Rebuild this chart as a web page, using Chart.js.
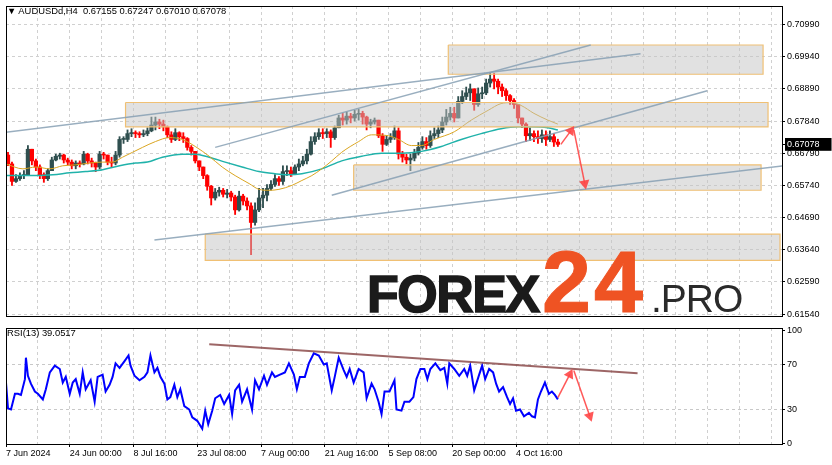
<!DOCTYPE html>
<html>
<head>
<meta charset="utf-8">
<script src="https://cdn.jsdelivr.net/npm/chart.js@4.4.1/dist/chart.umd.min.js"></script>
<style>
html,body{margin:0;padding:0;background:#fff;}
#wrap{position:relative;width:832px;height:465px;overflow:hidden;font-family:'Liberation Sans',Arial,sans-serif;}
#c1{position:absolute;left:0;top:0;}
#c2{position:absolute;left:0;top:322px;}
.hdr{position:absolute;font-size:9.4px;line-height:10px;color:#000;white-space:nowrap;}
.wm{position:absolute;line-height:1;white-space:nowrap;font-family:'Liberation Sans',Arial,sans-serif;}
#wm1{left:367px;top:268px;font-size:52px;font-weight:bold;color:#1b1b1b;letter-spacing:-1.5px;-webkit-text-stroke:1.5px #1b1b1b;}
#wm2{left:542px;top:238px;font-size:88px;font-weight:bold;color:#ef5323;letter-spacing:3px;-webkit-text-stroke:1px #ef5323;}
#wm3{left:651px;top:279px;font-size:39px;color:#2a2a2a;letter-spacing:-1px;}
</style>
</head>
<body>
<div id="wrap">
<canvas id="c1" width="832" height="322"></canvas>
<canvas id="c2" width="832" height="143"></canvas>
<div class="hdr" style="left:7px;top:6px">▼ AUDUSDd,H4&nbsp; 0.67155 0.67247 0.67010 0.67078</div>
<div class="hdr" style="left:7px;top:328px">RSI(13) 39.0517</div>
<div class="wm" id="wm1">FOREX</div>
<div class="wm" id="wm2">24</div>
<div class="wm" id="wm3">.PRO</div>
</div>
<script>
// ---------- DATA ----------
const timeLabels = ['7 Jun 2024','24 Jun 00:00','8 Jul 16:00','23 Jul 08:00','7 Aug 00:00','21 Aug 16:00','5 Sep 08:00','20 Sep 00:00','4 Oct 16:00'];
const priceTicks = [0.61540,0.62590,0.63640,0.64690,0.65740,0.66790,0.67840,0.68890,0.69940,0.70990];
const lastPrice = 0.67078;
const rsiTicks = [0,30,70,100];

const firstOpen = 0.6673;
const closes = [
.6644,.6587,.6596,.6606,.6609,.6692,.6654,.6634,.6609,.6596,
.6622,.6657,.6669,.6673,.6657,.6650,.6638,.6647,.6644,.6676,
.6654,.6647,.6634,.6676,.6673,.6650,.6647,.6673,.6724,.6724,
.6743,.6746,.6743,.6739,.6743,.6752,.6771,.6781,.6774,.6765,
.6739,.6724,.6746,.6733,.6727,.6698,.6685,.6654,.6634,.6606,
.6571,.6533,.6552,.6558,.6545,.6549,.6536,.6494,.6539,.6523,
.6507,.6453,.6494,.6533,.6542,.6564,.6577,.6596,.6587,.6619,
.6622,.6612,.6634,.6644,.6654,.6676,.6717,.6733,.6746,.6743,
.6749,.6730,.6762,.6794,.6787,.6800,.6794,.6806,.6809,.6797,
.6774,.6781,.6787,.6736,.6708,.6724,.6730,.6752,.6676,.6666,
.6657,.6663,.6679,.6698,.6717,.6704,.6736,.6743,.6755,.6781,
.6797,.6809,.6794,.6848,.6864,.6876,.6889,.6838,.6873,.6876,
.6908,.6921,.6914,.6895,.6883,.6867,.6851,.6838,.6794,.6774,
.6736,.6743,.6733,.6727,.6739,.6724,.6733,.67155,.67078];
const highs = [
.6682,.6650,.6609,.6615,.6622,.6704,.6692,.6660,.6641,.6615,
.6628,.6666,.6676,.6679,.6676,.6663,.6657,.6654,.6654,.6685,
.6679,.6663,.6650,.6685,.6682,.6673,.6666,.6685,.6733,.6733,
.6755,.6759,.6752,.6749,.6755,.6762,.6797,.6797,.6790,.6787,
.6768,.6749,.6759,.6749,.6746,.6730,.6704,.6685,.6654,.6634,
.6609,.6574,.6564,.6568,.6564,.6561,.6555,.6542,.6555,.6545,
.6533,.6517,.6517,.6564,.6564,.6577,.6590,.6609,.6603,.6638,
.6638,.6634,.6641,.6660,.6669,.6692,.6733,.6746,.6759,.6759,
.6759,.6755,.6768,.6803,.6809,.6813,.6809,.6819,.6822,.6816,
.6800,.6790,.6794,.6787,.6743,.6736,.6743,.6768,.6762,.6685,
.6676,.6676,.6692,.6714,.6733,.6730,.6752,.6762,.6768,.6797,
.6822,.6829,.6829,.6864,.6883,.6895,.6905,.6889,.6892,.6895,
.6921,.6940,.6940,.6921,.6905,.6889,.6870,.6857,.6838,.6794,
.6778,.6762,.6752,.6752,.6755,.6752,.6752,.6743,.67247];
const lows = [
.6638,.6574,.6584,.6590,.6596,.6606,.6641,.6622,.6596,.6584,
.6590,.6622,.6654,.6660,.6647,.6641,.6628,.6628,.6634,.6641,
.6644,.6634,.6619,.6628,.6660,.6641,.6634,.6641,.6666,.6711,
.6717,.6733,.6730,.6730,.6733,.6736,.6749,.6755,.6759,.6752,
.6730,.6714,.6720,.6720,.6714,.6689,.6673,.6647,.6622,.6596,
.6558,.6510,.6526,.6539,.6536,.6533,.6523,.6479,.6490,.6510,
.6494,.6348,.6444,.6488,.6501,.6523,.6558,.6571,.6574,.6577,
.6606,.6603,.6609,.6622,.6638,.6644,.6673,.6708,.6724,.6727,
.6730,.6698,.6724,.6762,.6771,.6774,.6778,.6784,.6787,.6774,
.6755,.6762,.6774,.6730,.6685,.6704,.6714,.6724,.6660,.6650,
.6644,.6622,.6654,.6673,.6692,.6692,.6698,.6727,.6730,.6746,
.6771,.6787,.6781,.6794,.6841,.6854,.6851,.6819,.6832,.6857,
.6870,.6895,.6889,.6873,.6864,.6851,.6838,.6825,.6778,.6762,
.6717,.6720,.6717,.6711,.6714,.6704,.6717,.6701,.67010];

const fastMAX = [0,17,30,44,57,70,84,97,107,117,127,137,150,164,177,190,204,217,230,244,254,264,274,287,297,307,317,327,337,354,367,384,394,407,417,430,450,467,484,497,507,517,530,544,554];
const fastMA = [.6644,.6628,.6634,.6628,.6638,.6641,.6647,.6650,.6650,.6666,.6682,.6698,.6717,.6730,.6724,.6701,.6669,.6634,.6606,.6580,.6561,.6558,.6561,.6574,.6590,.6606,.6628,.6654,.6682,.6717,.6739,.6736,.6724,.6704,.6704,.6724,.6749,.6787,.6819,.6841,.6844,.6835,.6809,.6787,.6774];
const slowMAX = [0,24,47,64,80,97,114,130,142,157,177,190,204,220,237,254,270,282,297,317,337,357,377,397,417,437,457,477,497,514,527,544,554];
const slowMA = [.6606,.6606,.6609,.6615,.6619,.6625,.6638,.6647,.6650,.6666,.6676,.6676,.6666,.6650,.6634,.6619,.6612,.6609,.6612,.6628,.6654,.6669,.6679,.6679,.6685,.6701,.6724,.6743,.6759,.6765,.6765,.6762,.6755];

const rsiX = [0,2,5,9,12,15,19,20,22,25,29,32,37,40,44,49,54,57,60,64,67,70,74,77,80,85,89,92,97,100,104,107,110,114,119,123,125,129,134,139,142,145,149,152,155,159,162,165,169,172,175,179,184,187,192,197,200,203,207,210,215,219,224,227,230,234,237,242,247,250,254,259,262,267,270,275,280,284,289,292,295,300,304,309,314,319,322,327,330,334,339,342,345,349,354,359,362,367,370,374,377,380,385,390,392,397,400,405,409,412,416,420,423,426,431,436,440,443,445,450,455,460,463,466,470,475,478,481,485,489,492,495,499,503,506,509,512,516,520,525,528,531,534,537,541,545,548,551,554];
const rsiV = [54,31,30,44,44,43,57,76,60,53,46,44,39,48,63,69,66,54,59,44,54,57,44,63,48,56,37,59,61,46,52,59,71,67,73,78,69,60,56,59,63,78,63,67,59,53,39,41,52,41,48,33,30,23,20,13,29,17,29,40,43,35,43,26,47,52,37,48,30,56,48,60,52,63,59,61,63,71,61,48,59,59,71,80,78,70,71,47,59,76,65,59,66,54,66,63,40,53,48,37,26,46,46,56,30,29,37,37,41,57,66,66,57,66,71,65,67,53,71,66,60,66,60,69,47,61,69,57,66,63,53,46,50,41,35,40,29,30,24,27,24,23,39,46,54,44,46,43,39.05];

// drawing objects (bar index, price)
const zones = [
  {from:444, to:760, low:0.69367, high:0.70322},
  {from:120, to:765, low:0.67649, high:0.68445},
  {from:349, to:758, low:0.65581, high:0.66408},
  {from:200, to:777, low:0.63290, high:0.64149}
];
const trendLines = [
  [[-3,0.67460],[637,0.70035]],
  [[210,0.66980],[587,0.70322]],
  [[149,0.63958],[829,0.66567]],
  [[327,0.65420],[704,0.68826]]
];
const priceArrows = [
  {pts:[[557,0.67080],[567,0.67520]], rot:35},
  {pts:[[570,0.67550],[581,0.65800]], rot:169}
];
const rsiTrend = [[204,88.0],[634,62.3]];
const rsiArrows = [
  {pts:[[554,40.6],[566,61.2]], rot:27},
  {pts:[[570,64.7],[586,24.3]], rot:161}
];

// ---------- CHARTS ----------
Chart.defaults.font.family = "'Liberation Sans', Arial, sans-serif";
Chart.defaults.font.size = 9;
Chart.defaults.color = '#000';

const XMAX = 779;
const xGrid = []; for (let v = 0; v <= 768; v += 32) xGrid.push(v);
const BULL = '#2f4f4f', BEAR = '#ff0000';
const opens = closes.map((c,i)=> i===0 ? firstOpen : closes[i-1]);
const candleX = closes.map((c,i)=> 2 + 4*i);
const colorAt = i => closes[i] >= opens[i] ? BULL : BEAR;

const framePlugin = {
  id:'frame',
  afterDraw(chart){
    const {ctx, chartArea:a} = chart;
    ctx.save();
    ctx.strokeStyle = '#000'; ctx.lineWidth = 1;
    ctx.strokeRect(Math.round(a.left)+0.5, Math.round(a.top)+0.5, Math.round(a.right-a.left), Math.round(a.bottom-a.top));
    ctx.restore();
  }
};

function lineDs(points, extra){
  return Object.assign({type:'line', data: points.map(p=>({x:p[0], y:p[1]})), pointRadius:0, fill:false, tension:0}, extra);
}
function arrowDs(a, color, w, r){
  return lineDs(a.pts, {borderColor:color, borderWidth:w, pointRadius:[0,r], pointStyle:'triangle',
    pointRotation:[0,a.rot], pointBackgroundColor:color, pointBorderColor:color, pointBorderWidth:0, order:1});
}
function noPad(s){ s.paddingTop=0; s.paddingBottom=0; s.paddingLeft=0; s.paddingRight=0; }

const mainDatasets = [
  {type:'bar', data: closes.map((c,i)=>({x:candleX[i], y:[lows[i], highs[i]]})),
   backgroundColor: ctx=>colorAt(ctx.dataIndex), barThickness:1.2, grouped:false, borderWidth:0, order:10},
  {type:'bar', data: closes.map((c,i)=>({x:candleX[i], y:[opens[i], c]})),
   backgroundColor: ctx=>colorAt(ctx.dataIndex), barThickness:3.6, grouped:false, borderWidth:0, minBarLength:1, order:9},
  {type:'line', data: fastMAX.map((x,i)=>({x, y:fastMA[i]})), borderColor:'#daa520', borderWidth:1,
   pointRadius:0, fill:false, cubicInterpolationMode:'monotone', order:8},
  {type:'line', data: slowMAX.map((x,i)=>({x, y:slowMA[i]})), borderColor:'#20b2aa', borderWidth:1.5,
   pointRadius:0, fill:false, cubicInterpolationMode:'monotone', order:8}
];
zones.forEach(z=>{
  mainDatasets.push(lineDs([[z.from,z.high],[z.to,z.high]], {borderWidth:0, borderColor:'rgba(0,0,0,0)',
    fill:{value:z.low}, backgroundColor:'rgba(196,196,196,0.5)', order:5}));
  mainDatasets.push(lineDs([[z.from,z.high],[z.to,z.high],[z.to,z.low],[z.from,z.low],[z.from,z.high]],
    {borderColor:'#f0c074', borderWidth:1.2, order:4}));
});
trendLines.forEach(t=> mainDatasets.push(lineDs(t, {borderColor:'rgba(135,160,180,0.85)', borderWidth:1.5, order:2})));
priceArrows.forEach(a=> mainDatasets.push(arrowDs(a, 'rgba(255,70,70,0.9)', 1.5, 6)));

new Chart(document.getElementById('c1'), {
  type:'line',
  data:{datasets: mainDatasets},
  plugins:[framePlugin],
  options:{
    responsive:false, animation:false, events:[],
    layout:{padding:{left:3, top:3, right:0, bottom:1}},
    plugins:{legend:{display:false}, tooltip:{enabled:false}},
    scales:{
      x:{type:'linear', min:0, max:XMAX, offset:false,
        afterBuildTicks: s=>{ s.ticks = xGrid.map(v=>({value:v})); },
        afterFit: s=>{ s.height = 0; noPad(s); },
        ticks:{display:false},
        grid:{color:'#d0d0d0', drawTicks:false, offset:false},
        border:{display:false, dash:[3,3]}},
      y:{type:'linear', position:'right', min:0.61477, max:0.71595,
        afterBuildTicks: s=>{ s.ticks = priceTicks.concat([lastPrice]).sort((a,b)=>a-b).map(v=>({value:v})); },
        afterFit: s=>{ s.width = 50; noPad(s); },
        ticks:{autoSkip:false, padding:2, callback: v=>Number(v).toFixed(5),
          color: ctx=> (ctx.tick && ctx.tick.value===lastPrice) ? '#fff' : '#000',
          showLabelBackdrop: ctx=> !!(ctx.tick && ctx.tick.value===lastPrice),
          backdropColor:'#000', backdropPadding:{top:1,bottom:1,left:2,right:12}},
        grid:{color: ctx=> (ctx.tick && ctx.tick.value===lastPrice) ? 'rgba(0,0,0,0)' : '#d0d0d0',
          tickColor:'#000', tickLength:3, tickBorderDash:[]},
        border:{display:false, dash:[3,3]}}
    }
  }
});

const rsiDatasets = [
  {type:'line', data: rsiX.map((x,i)=>({x, y:rsiV[i]})), borderColor:'#0000ff', borderWidth:2, pointRadius:0, fill:false, tension:0, order:5},
  lineDs(rsiTrend, {borderColor:'rgba(140,75,75,0.85)', borderWidth:2, order:3})
];
rsiArrows.forEach(a=> rsiDatasets.push(arrowDs(a, 'rgba(255,70,70,0.9)', 1.5, 6)));

new Chart(document.getElementById('c2'), {
  type:'line',
  data:{datasets: rsiDatasets},
  plugins:[framePlugin],
  options:{
    responsive:false, animation:false, events:[],
    layout:{padding:{left:3, top:2, right:0, bottom:0}},
    plugins:{legend:{display:false}, tooltip:{enabled:false}},
    scales:{
      x:{type:'linear', min:0, max:XMAX, offset:false,
        afterBuildTicks: s=>{ s.ticks = xGrid.map(v=>({value:v})); },
        afterFit: s=>{ s.height = 21; noPad(s); },
        ticks:{autoSkip:false, maxRotation:0, align:'start', padding:1,
          callback:(v,i)=> (i%2===0 && timeLabels[i/2]) ? timeLabels[i/2] : ''},
        grid:{color:'#d0d0d0', tickLength:3, tickBorderDash:[],
          tickColor: ctx=> (ctx.index%2===0 && ctx.index/2 < timeLabels.length) ? '#000' : 'rgba(0,0,0,0)'},
        border:{display:false, dash:[3,3]}},
      y:{type:'linear', position:'right', min:-0.6, max:102.4,
        afterBuildTicks: s=>{ s.ticks = rsiTicks.map(v=>({value:v})); },
        afterFit: s=>{ s.width = 50; noPad(s); },
        ticks:{autoSkip:false, padding:2},
        grid:{color: ctx=> (ctx.tick && (ctx.tick.value===30 || ctx.tick.value===70)) ? '#c8c8c8' : 'rgba(0,0,0,0)',
          tickColor:'#000', tickLength:3, tickBorderDash:[]},
        border:{display:false, dash:[3,3]}}
    }
  }
});
</script>
</body>
</html>
